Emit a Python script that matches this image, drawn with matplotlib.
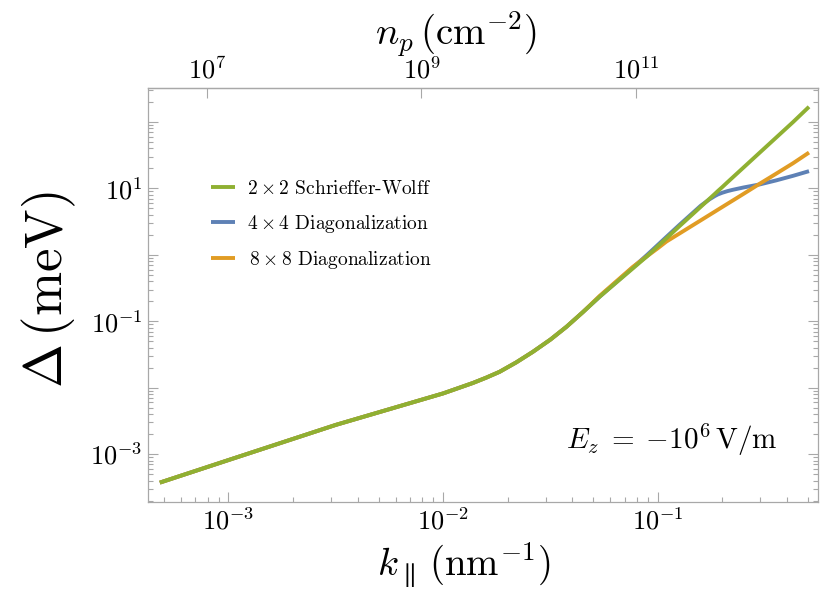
import matplotlib
matplotlib.use('Agg')
import matplotlib.pyplot as plt
from matplotlib.ticker import LogLocator, FuncFormatter, FixedLocator, NullLocator, NullFormatter
import numpy as np

plt.rcParams['mathtext.fontset'] = 'cm'
plt.rcParams['font.family'] = 'serif'
plt.rcParams['font.serif'] = ['cmr10', 'DejaVu Serif']
plt.rcParams['axes.formatter.use_mathtext'] = True

# k_parallel (nm^-1)
k = [4.79e-4, 1.0e-3, 3.16e-3, 1.0e-2, 1.374e-2, 1.585e-2, 1.832e-2, 2.188e-2,
     2.618e-2, 3.162e-2, 3.750e-2, 4.467e-2, 5.358e-2, 7.656e-2, 8.913e-2, 0.1,
     0.1096, 0.1259, 0.1585, 0.1738, 0.1841, 0.1905, 0.1995, 0.2113,
     0.2239, 0.2512, 0.2979, 0.3548, 0.4266, 0.5058]
# Delta (meV)
sw2 = [3.72e-4, 8.13e-4, 2.75e-3, 8.20e-3, 1.175e-2, 1.413e-2, 1.734e-2, 2.399e-2,
       3.467e-2, 5.309e-2, 8.24e-2, 0.1365, 0.2344, 0.6266, 0.955, 1.349,
       1.774, 2.692, 5.30, 6.966, 8.26, 9.162, 10.47, 12.45,
       14.79, 20.80, 34.5, 57.9, 100.0, 169.4]
diag4 = [3.72e-4, 8.13e-4, 2.75e-3, 8.20e-3, 1.175e-2, 1.413e-2, 1.734e-2, 2.399e-2,
         3.467e-2, 5.309e-2, 8.24e-2, 0.1365, 0.2344, 0.6457, 1.0, 1.413,
         1.862, 2.818, 5.50, 6.839, 7.674, 8.128, 8.61, 9.12,
         9.55, 10.35, 11.48, 13.18, 15.49, 18.20]
diag8 = [3.72e-4, 8.13e-4, 2.75e-3, 8.20e-3, 1.175e-2, 1.413e-2, 1.734e-2, 2.399e-2,
         3.467e-2, 5.309e-2, 8.24e-2, 0.1365, 0.241, 0.661, 0.955, 1.259,
         1.585, 2.089, 3.311, 3.981, 4.467, 4.786, 5.248, 5.888,
         6.607, 8.318, 11.75, 16.60, 23.99, 34.67]

x_ticks = [1e-3, 1e-2, 1e-1]
y_ticks = [1e-3, 1e-2, 1e-1, 1e0, 1e1, 1e2]
top_ticks = [1e7, 1e9, 1e11]

labels = [r'$2\times2$ Schrieffer-Wolff', r'$4\times4$ Diagonalization',
          r'$\,8\times8$ Diagonalization']
c_green, c_blue, c_orange = '#8FB032', '#5E81B5', '#E19C24'
frame_c = '#a8a8a8'

fig = plt.figure(figsize=(8.3, 5.89), dpi=100)
ax = fig.add_axes([148/830, 1-502/589, 670/830, 414/589])

lb, = ax.plot(k, diag4, color=c_blue, lw=2.8, solid_capstyle='butt', solid_joinstyle='round')
lo, = ax.plot(k, diag8, color=c_orange, lw=2.8, solid_capstyle='butt', solid_joinstyle='round')
lg, = ax.plot(k, sw2, color=c_green, lw=2.8, solid_capstyle='butt', solid_joinstyle='round')

ax.set_xscale('log')
ax.set_yscale('log')
ax.set_xlim(4.22e-4, 0.557)
ax.set_ylim(1.9e-4, 325)

for s in ax.spines.values():
    s.set_color(frame_c)
    s.set_linewidth(0.9)

ax.xaxis.set_major_locator(FixedLocator(x_ticks))
ax.xaxis.set_minor_locator(LogLocator(base=10, subs=np.arange(2, 10), numticks=20))
ax.yaxis.set_major_locator(FixedLocator(y_ticks))
ax.yaxis.set_minor_locator(LogLocator(base=10, subs=np.arange(2, 10), numticks=20))
ax.xaxis.set_minor_formatter(NullFormatter())
ax.yaxis.set_minor_formatter(NullFormatter())

def xfmt(v, p):
    return r'$10^{%d}$' % int(round(np.log10(v)))

def yfmt(v, p):
    e = int(round(np.log10(v)))
    return r'$10^{%d}$' % e if e % 2 != 0 else ''

ax.xaxis.set_major_formatter(FuncFormatter(xfmt))
ax.yaxis.set_major_formatter(FuncFormatter(yfmt))
ax.tick_params(which='both', direction='in', color=frame_c, top=False, right=True,
               labelsize=19, width=0.8)
ax.tick_params(which='major', length=7)
ax.tick_params(which='minor', length=3.5)
ax.tick_params(axis='x', pad=4)
ax.tick_params(axis='y', pad=4)

def k2n(x):
    x = np.asarray(x, dtype=float)
    return x**2 / (2*np.pi) * 1e14

def n2k(n):
    n = np.asarray(n, dtype=float)
    return np.sqrt(np.clip(n, 1e-300, None) * 2*np.pi * 1e-14)

sec = ax.secondary_xaxis('top', functions=(k2n, n2k))
sec.xaxis.set_major_locator(FixedLocator(top_ticks))
sec.xaxis.set_minor_locator(NullLocator())
sec.xaxis.set_major_formatter(FuncFormatter(xfmt))
sec.tick_params(direction='in', color=frame_c, length=7, width=0.8, labelsize=19, pad=3)
sec.spines['top'].set_color(frame_c)
sec.spines['top'].set_linewidth(0.9)
sec.set_xlabel(r'$n_p\,(\mathrm{cm}^{-2})$', fontsize=28)
sec.xaxis.set_label_coords((456-148)/670, (502-45)/414, transform=ax.transAxes)

ax.set_xlabel(r'$k_\parallel\,(\mathrm{nm}^{-1})$', fontsize=28)
ax.xaxis.set_label_coords((464-148)/670, (502-540)/414)
ax.set_ylabel(r'$\Delta\,(\mathrm{meV})$', fontsize=38)
ax.yaxis.set_label_coords((78-148)/670, (502-290)/414)

ax.text((672-148)/670, (502-440)/414, r'$E_z \;=\; {-}10^{6}\,\mathrm{V/m}$',
        transform=ax.transAxes, fontsize=21, ha='center', va='center')

ax.legend([lg, lb, lo], labels, loc='upper left',
          bbox_to_anchor=(211/830, 1-180/589), bbox_transform=fig.transFigure,
          frameon=False, fontsize=14, handlelength=1.25, handletextpad=0.6,
          labelspacing=0.75, borderpad=0, borderaxespad=0)

fig.savefig('out.png', dpi=100)
